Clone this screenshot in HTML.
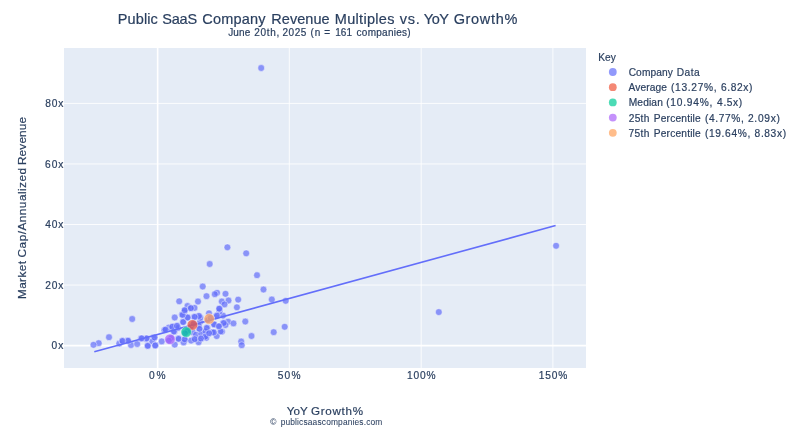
<!DOCTYPE html>
<html>
<head>
<meta charset="utf-8">
<title>Public SaaS Company Revenue Multiples vs. YoY Growth%</title>
<style>
  html, body { margin: 0; padding: 0; background: #ffffff; }
  body { width: 800px; height: 432px; overflow: hidden; font-family: "Liberation Sans", sans-serif; }
  svg { display: block; will-change: transform; }
  text { font-family: "Liberation Sans", sans-serif; fill: #2a3f5f; stroke: #2a3f5f; }
  svg { stroke-width: 0.2px; }
  .tick { font-size: 10.2px; }
  .leg { font-size: 10.2px; }
  .pt circle { fill: #636efa; fill-opacity: 0.7; stroke: #ffffff; stroke-opacity: 0.55; stroke-width: 0.8; }
</style>
</head>
<body>
<svg width="800" height="432" viewBox="0 0 800 432">
  <rect x="0" y="0" width="800" height="432" fill="#ffffff"/>
  <!-- plot background -->
  <rect x="64" y="48" width="522" height="320" fill="#e5ecf6"/>

  <!-- gridlines -->
  <g stroke="#ffffff" stroke-width="0.85" fill="none">
    <line x1="289.3" y1="48" x2="289.3" y2="368"/>
    <line x1="421.2" y1="48" x2="421.2" y2="368"/>
    <line x1="552.9" y1="48" x2="552.9" y2="368"/>
    <line x1="64" y1="285.05" x2="586" y2="285.05"/>
    <line x1="64" y1="224.5" x2="586" y2="224.5"/>
    <line x1="64" y1="163.95" x2="586" y2="163.95"/>
    <line x1="64" y1="103.4" x2="586" y2="103.4"/>
  </g>
  <!-- zero lines -->
  <g stroke="#ffffff" stroke-width="1.6" fill="none">
    <line x1="157.65" y1="48" x2="157.65" y2="368"/>
    <line x1="64" y1="345.6" x2="586" y2="345.6"/>
  </g>

  <!-- data points -->
  <g class="pt" id="pts">
    <circle cx="132.2" cy="319.0" r="3.4"/>
    <circle cx="109.0" cy="337.2" r="3.4"/>
    <circle cx="98.7" cy="343.2" r="3.4"/>
    <circle cx="93.5" cy="344.8" r="3.4"/>
    <circle cx="119.3" cy="343.5" r="3.4"/>
    <circle cx="122.2" cy="340.8" r="3.4"/>
    <circle cx="127.8" cy="340.5" r="3.4"/>
    <circle cx="131.0" cy="345.0" r="3.4"/>
    <circle cx="137.2" cy="344.0" r="3.4"/>
    <circle cx="141.0" cy="338.5" r="3.4"/>
    <circle cx="146.2" cy="338.9" r="3.4"/>
    <circle cx="147.9" cy="345.5" r="3.4"/>
    <circle cx="153.7" cy="337.5" r="3.4"/>
    <circle cx="152.4" cy="341.4" r="3.4"/>
    <circle cx="155.3" cy="345.2" r="3.4"/>
    <circle cx="161.7" cy="341.4" r="3.4"/>
    <circle cx="165.0" cy="329.9" r="3.4"/>
    <circle cx="174.7" cy="317.5" r="3.4"/>
    <circle cx="184.3" cy="312.3" r="3.4"/>
    <circle cx="182.0" cy="314.6" r="3.4"/>
    <circle cx="187.1" cy="317.4" r="3.4"/>
    <circle cx="183.0" cy="321.7" r="3.4"/>
    <circle cx="198.8" cy="315.8" r="3.4"/>
    <circle cx="194.2" cy="317.0" r="3.4"/>
    <circle cx="209.0" cy="313.3" r="3.4"/>
    <circle cx="216.4" cy="316.0" r="3.4"/>
    <circle cx="223.0" cy="315.6" r="3.4"/>
    <circle cx="219.5" cy="311.5" r="3.4"/>
    <circle cx="228.1" cy="321.7" r="3.4"/>
    <circle cx="233.5" cy="323.4" r="3.4"/>
    <circle cx="223.0" cy="323.2" r="3.4"/>
    <circle cx="214.2" cy="324.6" r="3.4"/>
    <circle cx="218.6" cy="326.3" r="3.4"/>
    <circle cx="222.0" cy="331.6" r="3.4"/>
    <circle cx="216.7" cy="336.1" r="3.4"/>
    <circle cx="213.1" cy="332.1" r="3.4"/>
    <circle cx="207.4" cy="328.0" r="3.4"/>
    <circle cx="204.7" cy="331.4" r="3.4"/>
    <circle cx="208.8" cy="333.6" r="3.4"/>
    <circle cx="205.7" cy="337.2" r="3.4"/>
    <circle cx="201.4" cy="338.4" r="3.4"/>
    <circle cx="198.6" cy="342.2" r="3.4"/>
    <circle cx="194.4" cy="338.9" r="3.4"/>
    <circle cx="199.4" cy="329.3" r="3.4"/>
    <circle cx="200.2" cy="321.8" r="3.4"/>
    <circle cx="177.6" cy="326.0" r="3.4"/>
    <circle cx="173.0" cy="326.5" r="3.4"/>
    <circle cx="174.5" cy="331.5" r="3.4"/>
    <circle cx="178.4" cy="338.3" r="3.4"/>
    <circle cx="185.1" cy="339.9" r="3.4"/>
    <circle cx="183.6" cy="342.4" r="3.4"/>
    <circle cx="191.1" cy="340.6" r="3.4"/>
    <circle cx="174.7" cy="344.6" r="3.4"/>
    <circle cx="192.7" cy="332.2" r="3.4"/>
    <circle cx="168.8" cy="327.6" r="3.4"/>
    <circle cx="177.9" cy="327.9" r="3.4"/>
    <circle cx="198.8" cy="325.8" r="3.4"/>
    <circle cx="196.0" cy="334.7" r="3.4"/>
    <circle cx="201.3" cy="333.8" r="3.4"/>
    <circle cx="212.3" cy="332.3" r="3.4"/>
    <circle cx="220.6" cy="331.4" r="3.4"/>
    <circle cx="206.3" cy="337.8" r="3.4"/>
    <circle cx="245.3" cy="321.5" r="3.4"/>
    <circle cx="251.5" cy="336.0" r="3.4"/>
    <circle cx="241.2" cy="341.5" r="3.4"/>
    <circle cx="241.7" cy="345.2" r="3.4"/>
    <circle cx="273.7" cy="332.2" r="3.4"/>
    <circle cx="284.7" cy="326.8" r="3.4"/>
    <circle cx="225.5" cy="325.0" r="3.4"/>
    <circle cx="202.7" cy="286.5" r="3.4"/>
    <circle cx="206.5" cy="296.2" r="3.4"/>
    <circle cx="217.0" cy="292.8" r="3.4"/>
    <circle cx="214.8" cy="294.2" r="3.4"/>
    <circle cx="225.5" cy="293.8" r="3.4"/>
    <circle cx="228.5" cy="300.5" r="3.4"/>
    <circle cx="221.8" cy="301.5" r="3.4"/>
    <circle cx="224.5" cy="304.4" r="3.4"/>
    <circle cx="219.5" cy="308.8" r="3.4"/>
    <circle cx="198.0" cy="301.5" r="3.4"/>
    <circle cx="179.2" cy="301.3" r="3.4"/>
    <circle cx="187.5" cy="306.0" r="3.4"/>
    <circle cx="190.5" cy="307.9" r="3.4"/>
    <circle cx="194.5" cy="307.9" r="3.4"/>
    <circle cx="184.6" cy="310.7" r="3.4"/>
    <circle cx="236.9" cy="307.3" r="3.4"/>
    <circle cx="200.4" cy="317.7" r="3.4"/>
    <circle cx="257.0" cy="275.2" r="3.4"/>
    <circle cx="263.5" cy="289.5" r="3.4"/>
    <circle cx="271.8" cy="299.5" r="3.4"/>
    <circle cx="285.7" cy="300.8" r="3.4"/>
    <circle cx="238.2" cy="299.6" r="3.4"/>
    <circle cx="227.4" cy="247.3" r="3.4"/>
    <circle cx="209.7" cy="264.0" r="3.4"/>
    <circle cx="246.2" cy="253.3" r="3.4"/>
    <circle cx="261.2" cy="68.0" r="3.4"/>
    <circle cx="438.8" cy="312.1" r="3.4"/>
    <circle cx="556.1" cy="245.8" r="3.4"/>
    <circle cx="164.4" cy="330.1" r="3.4"/>
    <circle cx="165.5" cy="329.6" r="3.4"/>
    <circle cx="173.8" cy="331.5" r="3.4"/>
    <circle cx="178.6" cy="338.9" r="3.4"/>
    <circle cx="184.6" cy="339.3" r="3.4"/>
    <circle cx="194.8" cy="339.2" r="3.4"/>
    <circle cx="213.8" cy="332.5" r="3.4"/>
    <circle cx="214.1" cy="324.3" r="3.4"/>
    <circle cx="205.6" cy="331.3" r="3.4"/>
    <circle cx="205.3" cy="336.6" r="3.4"/>
    <circle cx="199.0" cy="316.1" r="3.4"/>
    <circle cx="219.2" cy="308.7" r="3.4"/>
    <circle cx="183.2" cy="322.1" r="3.4"/>
    <circle cx="187.7" cy="317.5" r="3.4"/>
    <circle cx="172.2" cy="326.8" r="3.4"/>
    <circle cx="176.9" cy="325.9" r="3.4"/>
    <circle cx="206.7" cy="328.0" r="3.4"/>
    <circle cx="200.9" cy="338.5" r="3.4"/>
    <circle cx="154.6" cy="337.5" r="3.4"/>
    <circle cx="146.6" cy="338.3" r="3.4"/>
    <circle cx="147.7" cy="345.9" r="3.4"/>
    <circle cx="155.2" cy="345.5" r="3.4"/>
    <circle cx="199.5" cy="328.8" r="3.4"/>
    <circle cx="209.1" cy="333.2" r="3.4"/>
    <circle cx="223.8" cy="323.0" r="3.4"/>
    <circle cx="219.0" cy="326.3" r="3.4"/>
    <circle cx="216.9" cy="315.7" r="3.4"/>
    <circle cx="194.7" cy="316.9" r="3.4"/>
    <circle cx="182.6" cy="314.9" r="3.4"/>
    <circle cx="184.7" cy="310.2" r="3.4"/>
    <circle cx="190.9" cy="308.2" r="3.4"/>
    <circle cx="141.7" cy="338.3" r="3.4"/>
    <circle cx="128.1" cy="340.8" r="3.4"/>
    <circle cx="122.5" cy="341.0" r="3.4"/>
    <circle cx="192.4" cy="325.0" r="3.4"/>
    <circle cx="191.0" cy="326.6" r="3.4"/>
    <circle cx="193.6" cy="323.6" r="3.4"/>
    <circle cx="186.3" cy="332.0" r="3.4"/>
    <circle cx="187.6" cy="330.8" r="3.4"/>
    <circle cx="185.0" cy="333.2" r="3.4"/>
    <circle cx="170.0" cy="339.3" r="3.4"/>
    <circle cx="171.2" cy="338.0" r="3.4"/>
    <circle cx="168.8" cy="340.6" r="3.4"/>
    <circle cx="209.2" cy="318.9" r="3.4"/>
    <circle cx="207.8" cy="320.2" r="3.4"/>
    <circle cx="210.6" cy="317.8" r="3.4"/>
  </g>

  <!-- trend line -->
  <line x1="94.3" y1="351.8" x2="555.6" y2="225.6" stroke="#636efa" stroke-width="1.6" fill="none"/>

  <!-- summary markers -->
  <g id="summary">
    <circle cx="192.4" cy="324.95" r="5.3" fill="#ef553b" fill-opacity="0.72" stroke="#fff" stroke-opacity="0.5" stroke-width="0.8"/>
    <circle cx="186.25" cy="332.0" r="5.3" fill="#00cc96" fill-opacity="0.72" stroke="#fff" stroke-opacity="0.5" stroke-width="0.8"/>
    <circle cx="170.0" cy="339.3" r="5.3" fill="#ab63fa" fill-opacity="0.72" stroke="#fff" stroke-opacity="0.5" stroke-width="0.8"/>
    <circle cx="209.2" cy="318.9" r="5.3" fill="#ffa15a" fill-opacity="0.72" stroke="#fff" stroke-opacity="0.5" stroke-width="0.8"/>
  </g>

  <!-- title -->
  <g font-size="14.5">
    <text id="t_tw0" x="117.81" y="23.9" letter-spacing="0.098">Public</text>
    <text id="t_tw1" x="162.14" y="23.9" letter-spacing="-0.139">SaaS</text>
    <text id="t_tw2" x="202.28" y="23.9" letter-spacing="0.211">Company</text>
    <text id="t_tw3" x="271.26" y="23.9" letter-spacing="0.058">Revenue</text>
    <text id="t_tw4" x="334.81" y="23.9" letter-spacing="0.306">Multiples</text>
    <text id="t_tw5" x="399.64" y="23.9" letter-spacing="0.762">vs.</text>
    <text id="t_tw6" x="423.63" y="23.9" letter-spacing="-0.338">YoY</text>
    <text id="t_tw7" x="453.67" y="23.9" letter-spacing="0.670">Growth%</text>
  </g>
  <g font-size="10.0">
    <text id="t_sw0" x="228.23" y="35.9" letter-spacing="0.119">June</text>
    <text id="t_sw1" x="254.30" y="35.9" letter-spacing="0.714">20th,</text>
    <text id="t_sw2" x="282.60" y="35.9" letter-spacing="0.464">2025</text>
    <text id="t_sw3" x="310.62" y="35.9" letter-spacing="0.882">(n</text>
    <text id="t_sw4" x="324.15" y="35.9" letter-spacing="0.000">=</text>
    <text id="t_sw5" x="335.17" y="35.9" letter-spacing="0.124">161</text>
    <text id="t_sw6" x="356.60" y="35.9" letter-spacing="0.267">companies)</text>
  </g>

  <!-- x tick labels -->
  <g class="tick">
    <text id="t_x0" x="149.12" y="378.7" letter-spacing="1.686">0%</text>
    <text id="t_x50" x="277.83" y="378.7" letter-spacing="1.119">50%</text>
    <text id="t_x100" x="406.91" y="378.7" letter-spacing="0.885">100%</text>
    <text id="t_x150" x="538.68" y="378.7" letter-spacing="0.839">150%</text>
  </g>
  <!-- y tick labels -->
  <g class="tick">
    <text id="t_y0" x="51.42" y="348.9" letter-spacing="1.165">0x</text>
    <text id="t_y20" x="45.15" y="288.8" letter-spacing="0.916">20x</text>
    <text id="t_y40" x="45.34" y="228.2" letter-spacing="0.819">40x</text>
    <text id="t_y60" x="45.04" y="167.7" letter-spacing="0.969">60x</text>
    <text id="t_y80" x="45.23" y="107.1" letter-spacing="0.875">80x</text>
  </g>

  <!-- axis titles -->
  <g font-size="11.6">
    <text id="t_xt0" x="286.65" y="414.8" letter-spacing="0.171">YoY</text>
    <text id="t_xt1" x="310.91" y="414.8" letter-spacing="0.753">Growth%</text>
  </g>
  <g font-size="8.4" stroke-width="0.05">
    <text id="t_cp0" x="270.33" y="425.0" letter-spacing="0.000">©</text>
    <text id="t_cp1" x="280.63" y="425.0" letter-spacing="0.159">publicsaascompanies.com</text>
  </g>
  <g transform="translate(26.1,298.1) rotate(-90)" font-size="11.8">
    <text id="t_yt0" x="-1.00" y="0" letter-spacing="0.418">Market</text>
    <text id="t_yt1" x="40.72" y="0" letter-spacing="0.474">Cap/Annualized</text>
    <text id="t_yt2" x="133.01" y="0" letter-spacing="0.170">Revenue</text>
  </g>

  <!-- legend -->
  <text id="t_key" x="598.18" y="60.75" font-size="10.2" letter-spacing="0.044">Key</text>
  <g id="legend">
    <circle cx="612.8" cy="72.0" r="3.9" fill="#636efa" fill-opacity="0.7"/>
    <circle cx="612.8" cy="87.2" r="3.9" fill="#ef553b" fill-opacity="0.7"/>
    <circle cx="612.8" cy="102.4" r="3.9" fill="#00cc96" fill-opacity="0.7"/>
    <circle cx="612.8" cy="117.6" r="3.9" fill="#ab63fa" fill-opacity="0.7"/>
    <circle cx="612.8" cy="132.8" r="3.9" fill="#ffa15a" fill-opacity="0.7"/>
    <g class="leg">
      <text id="t_l0_0" x="628.63" y="75.9" letter-spacing="0.122">Company</text>
      <text id="t_l0_1" x="676.78" y="75.9" letter-spacing="0.466">Data</text>
      <text id="t_l1_0" x="628.48" y="91.1" letter-spacing="0.132">Average</text>
      <text id="t_l1_1" x="670.90" y="91.1" letter-spacing="0.719">(13.27%,</text>
      <text id="t_l1_2" x="721.04" y="91.1" letter-spacing="0.605">6.82x)</text>
      <text id="t_l2_0" x="628.70" y="106.3" letter-spacing="0.151">Median</text>
      <text id="t_l2_1" x="666.17" y="106.3" letter-spacing="0.788">(10.94%,</text>
      <text id="t_l2_2" x="717.11" y="106.3" letter-spacing="0.608">4.5x)</text>
      <text id="t_l3_0" x="628.78" y="121.5" letter-spacing="0.237">25th</text>
      <text id="t_l3_1" x="653.71" y="121.5" letter-spacing="0.191">Percentile</text>
      <text id="t_l3_2" x="704.90" y="121.5" letter-spacing="0.637">(4.77%,</text>
      <text id="t_l3_3" x="747.95" y="121.5" letter-spacing="0.742">2.09x)</text>
      <text id="t_l4_0" x="628.58" y="136.7" letter-spacing="0.304">75th</text>
      <text id="t_l4_1" x="653.71" y="136.7" letter-spacing="0.191">Percentile</text>
      <text id="t_l4_2" x="704.90" y="136.7" letter-spacing="0.665">(19.64%,</text>
      <text id="t_l4_3" x="754.60" y="136.7" letter-spacing="0.622">8.83x)</text>
    </g>
  </g>
</svg>
</body>
</html>
